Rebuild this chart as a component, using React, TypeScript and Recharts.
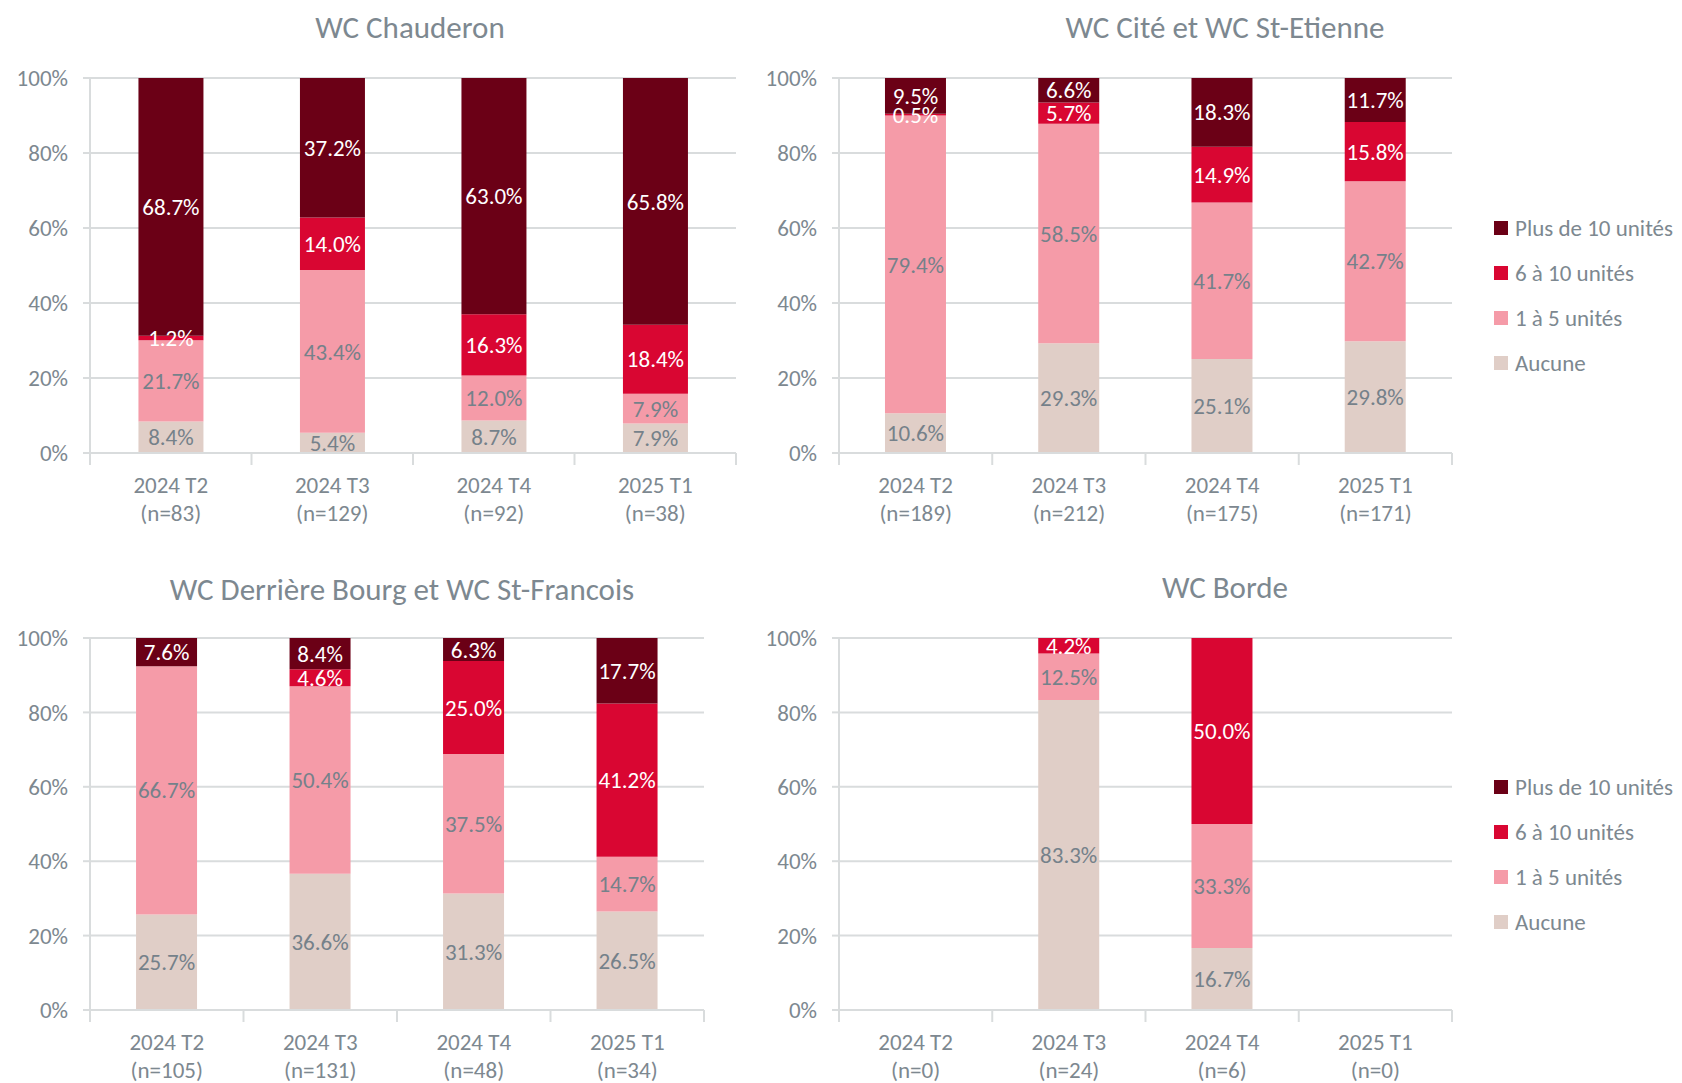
import { Bar, BarChart, CartesianGrid, LabelList, XAxis, YAxis } from 'recharts'

const categories = ['2024 T2', '2024 T3', '2024 T4', '2025 T1']
const seriesNames = ['Aucune', '1 à 5 unités', '6 à 10 unités', 'Plus de 10 unités']
const yTicks = [0, 20, 40, 60, 80, 100]

// WC Chauderon
const chauderonN = [83, 129, 92, 38]
const chauderonAucune = [8.4, 5.4, 8.7, 7.9]
const chauderonUn5 = [21.7, 43.4, 12.0, 7.9]
const chauderonSix10 = [1.2, 14.0, 16.3, 18.4]
const chauderonPlus10 = [68.7, 37.2, 63.0, 65.8]

// WC Cité et WC St-Etienne
const citeN = [189, 212, 175, 171]
const citeAucune = [10.6, 29.3, 25.1, 29.8]
const citeUn5 = [79.4, 58.5, 41.7, 42.7]
const citeSix10 = [0.5, 5.7, 14.9, 15.8]
const citePlus10 = [9.5, 6.6, 18.3, 11.7]

// WC Derrière Bourg et WC St-Francois
const bourgN = [105, 131, 48, 34]
const bourgAucune = [25.7, 36.6, 31.3, 26.5]
const bourgUn5 = [66.7, 50.4, 37.5, 14.7]
const bourgSix10 = [null, 4.6, 25.0, 41.2]
const bourgPlus10 = [7.6, 8.4, 6.3, 17.7]

// WC Borde
const bordeN = [0, 24, 6, 0]
const bordeAucune = [null, 83.3, 16.7, null]
const bordeUn5 = [null, 12.5, 33.3, null]
const bordeSix10 = [null, 4.2, 50.0, null]
const bordePlus10 = [null, null, null, null]

const COLORS = ['#E0CEC7', '#F59BA8', '#D90632', '#6B0016']
const LABEL_COLORS = ['#75818A', '#75818A', '#FFFFFF', '#FFFFFF']
const GRAY = '#7D8890'
const GRID = '#D9DCDD'
const FONT = "Carlito, 'Liberation Sans Narrow', Lato, 'Open Sans', sans-serif"

type Row = { label: string, s0: number | null, s1: number | null, s2: number | null, s3: number | null }

function buildRows(n: number[], a: (number | null)[], b: (number | null)[], c: (number | null)[], d: (number | null)[]): Row[] {
  return categories.map((cat, i) => ({
    label: `${cat}|(n=${n[i]})`,
    s0: a[i], s1: b[i], s2: c[i], s3: d[i],
  }))
}

const chauderonData = buildRows(chauderonN, chauderonAucune, chauderonUn5, chauderonSix10, chauderonPlus10)
const citeData = buildRows(citeN, citeAucune, citeUn5, citeSix10, citePlus10)
const bourgData = buildRows(bourgN, bourgAucune, bourgUn5, bourgSix10, bourgPlus10)
const bordeData = buildRows(bordeN, bordeAucune, bordeUn5, bordeSix10, bordePlus10)

function CategoryTick(props: any) {
  const { x, y, payload, index, visibleTicksCount } = props
  const half = payload.offset || 0
  const [line1, line2] = String(payload.value).split('|')
  const last = index === visibleTicksCount - 1
  return (
    <g>
      <line x1={x - half} x2={x - half} y1={y} y2={y + 12} stroke={GRID} strokeWidth={2} />
      {last && <line x1={x + half} x2={x + half} y1={y} y2={y + 12} stroke={GRID} strokeWidth={2} />}
      <text x={x} y={y + 32} textAnchor="middle" dominantBaseline="central" fill={GRAY} fontSize={23} fontFamily={FONT}>{line1}</text>
      <text x={x} y={y + 60} textAnchor="middle" dominantBaseline="central" fill={GRAY} fontSize={23} fontFamily={FONT}>{line2}</text>
    </g>
  )
}

interface PanelProps {
  title: string
  titleX: number
  titleY: number
  data: Row[]
  left: number
  top: number
  width: number
  height: number
  plotLeft: number
  plotRight: number
  plotTop: number
  plotBottom: number
}

function Panel({ title, titleX, titleY, data, left, top, width, height, plotLeft, plotRight, plotTop, plotBottom }: PanelProps) {
  const xAxisHeight = 70
  const margin = {
    top: plotTop - top,
    left: 0,
    right: left + width - plotRight,
    bottom: top + height - plotBottom - xAxisHeight,
  }
  const keys = ['s0', 's1', 's2', 's3']
  return (
    <div style={{ position: 'absolute', left, top, width, height }}>
      <span style={{
        position: 'absolute', left: titleX - left, top: titleY - top - 20, transform: 'translateX(-50%)',
        whiteSpace: 'nowrap', fontFamily: FONT, fontSize: 31, color: GRAY, lineHeight: '40px',
      }}>{title}</span>
      <BarChart width={width} height={height} data={data} margin={margin} barCategoryGap="30%" style={{ overflow: 'visible' }}>
        <CartesianGrid vertical={false} stroke={GRID} strokeWidth={2} />
        <XAxis
          dataKey="label"
          height={xAxisHeight}
          axisLine={{ stroke: GRID, strokeWidth: 2 }}
          tickLine={false}
          tickSize={0}
          tickMargin={0}
          interval={0}
          tick={<CategoryTick />}
        />
        <YAxis
          width={plotLeft - left}
          domain={[0, 100]}
          ticks={yTicks}
          allowDataOverflow
          axisLine={{ stroke: GRID, strokeWidth: 2 }}
          tickLine={{ stroke: GRID, strokeWidth: 2 }}
          tickSize={7}
          tickMargin={15}
          tickFormatter={(v: number) => `${v}%`}
          tick={{ fill: GRAY, fontSize: 23, fontFamily: FONT }}
        />
        {keys.map((k, i) => (
          <Bar key={k} dataKey={k} stackId="a" fill={COLORS[i]} name={seriesNames[i]} isAnimationActive={false}>
            <LabelList
              dataKey={k}
              position="center"
              fill={LABEL_COLORS[i]}
              fontSize={23}
              fontFamily={FONT}
              formatter={(v: any) => (v == null ? '' : `${Number(v).toFixed(1)}%`)}
            />
          </Bar>
        ))}
      </BarChart>
    </div>
  )
}

function LegendBox({ left, top }: { left: number, top: number }) {
  const order = [3, 2, 1, 0]
  return (
    <div style={{ position: 'absolute', left, top }}>
      {order.map((i, r) => (
        <div key={i} style={{ position: 'absolute', left: 0, top: r * 45 - 15, height: 30, display: 'flex', alignItems: 'center', whiteSpace: 'nowrap' }}>
          <span style={{ display: 'inline-block', width: 14, height: 14, background: COLORS[i], marginRight: 7 }} />
          <span style={{ fontFamily: FONT, fontSize: 23, color: GRAY }}>{seriesNames[i]}</span>
        </div>
      ))}
    </div>
  )
}

export default function App() {
  return (
    <div style={{ position: 'absolute', left: 0, top: 0, width: 1682, height: 1083, background: '#FFFFFF', overflow: 'hidden' }}>
      <Panel title="WC Chauderon" titleX={410} titleY={27} data={chauderonData} left={0} top={0} width={760} height={540}
        plotLeft={90} plotRight={736} plotTop={78} plotBottom={453} />
      <Panel title="WC Cité et WC St-Etienne" titleX={1225} titleY={27} data={citeData} left={750} top={0} width={720} height={540}
        plotLeft={839} plotRight={1452} plotTop={78} plotBottom={453} />
      <Panel title="WC Derrière Bourg et WC St-Francois" titleX={402} titleY={589} data={bourgData} left={0} top={560} width={740} height={523}
        plotLeft={90} plotRight={704} plotTop={638} plotBottom={1010} />
      <Panel title="WC Borde" titleX={1225} titleY={587} data={bordeData} left={750} top={560} width={720} height={523}
        plotLeft={839} plotRight={1452} plotTop={638} plotBottom={1010} />
      <LegendBox left={1494} top={228} />
      <LegendBox left={1494} top={787} />
    </div>
  )
}
